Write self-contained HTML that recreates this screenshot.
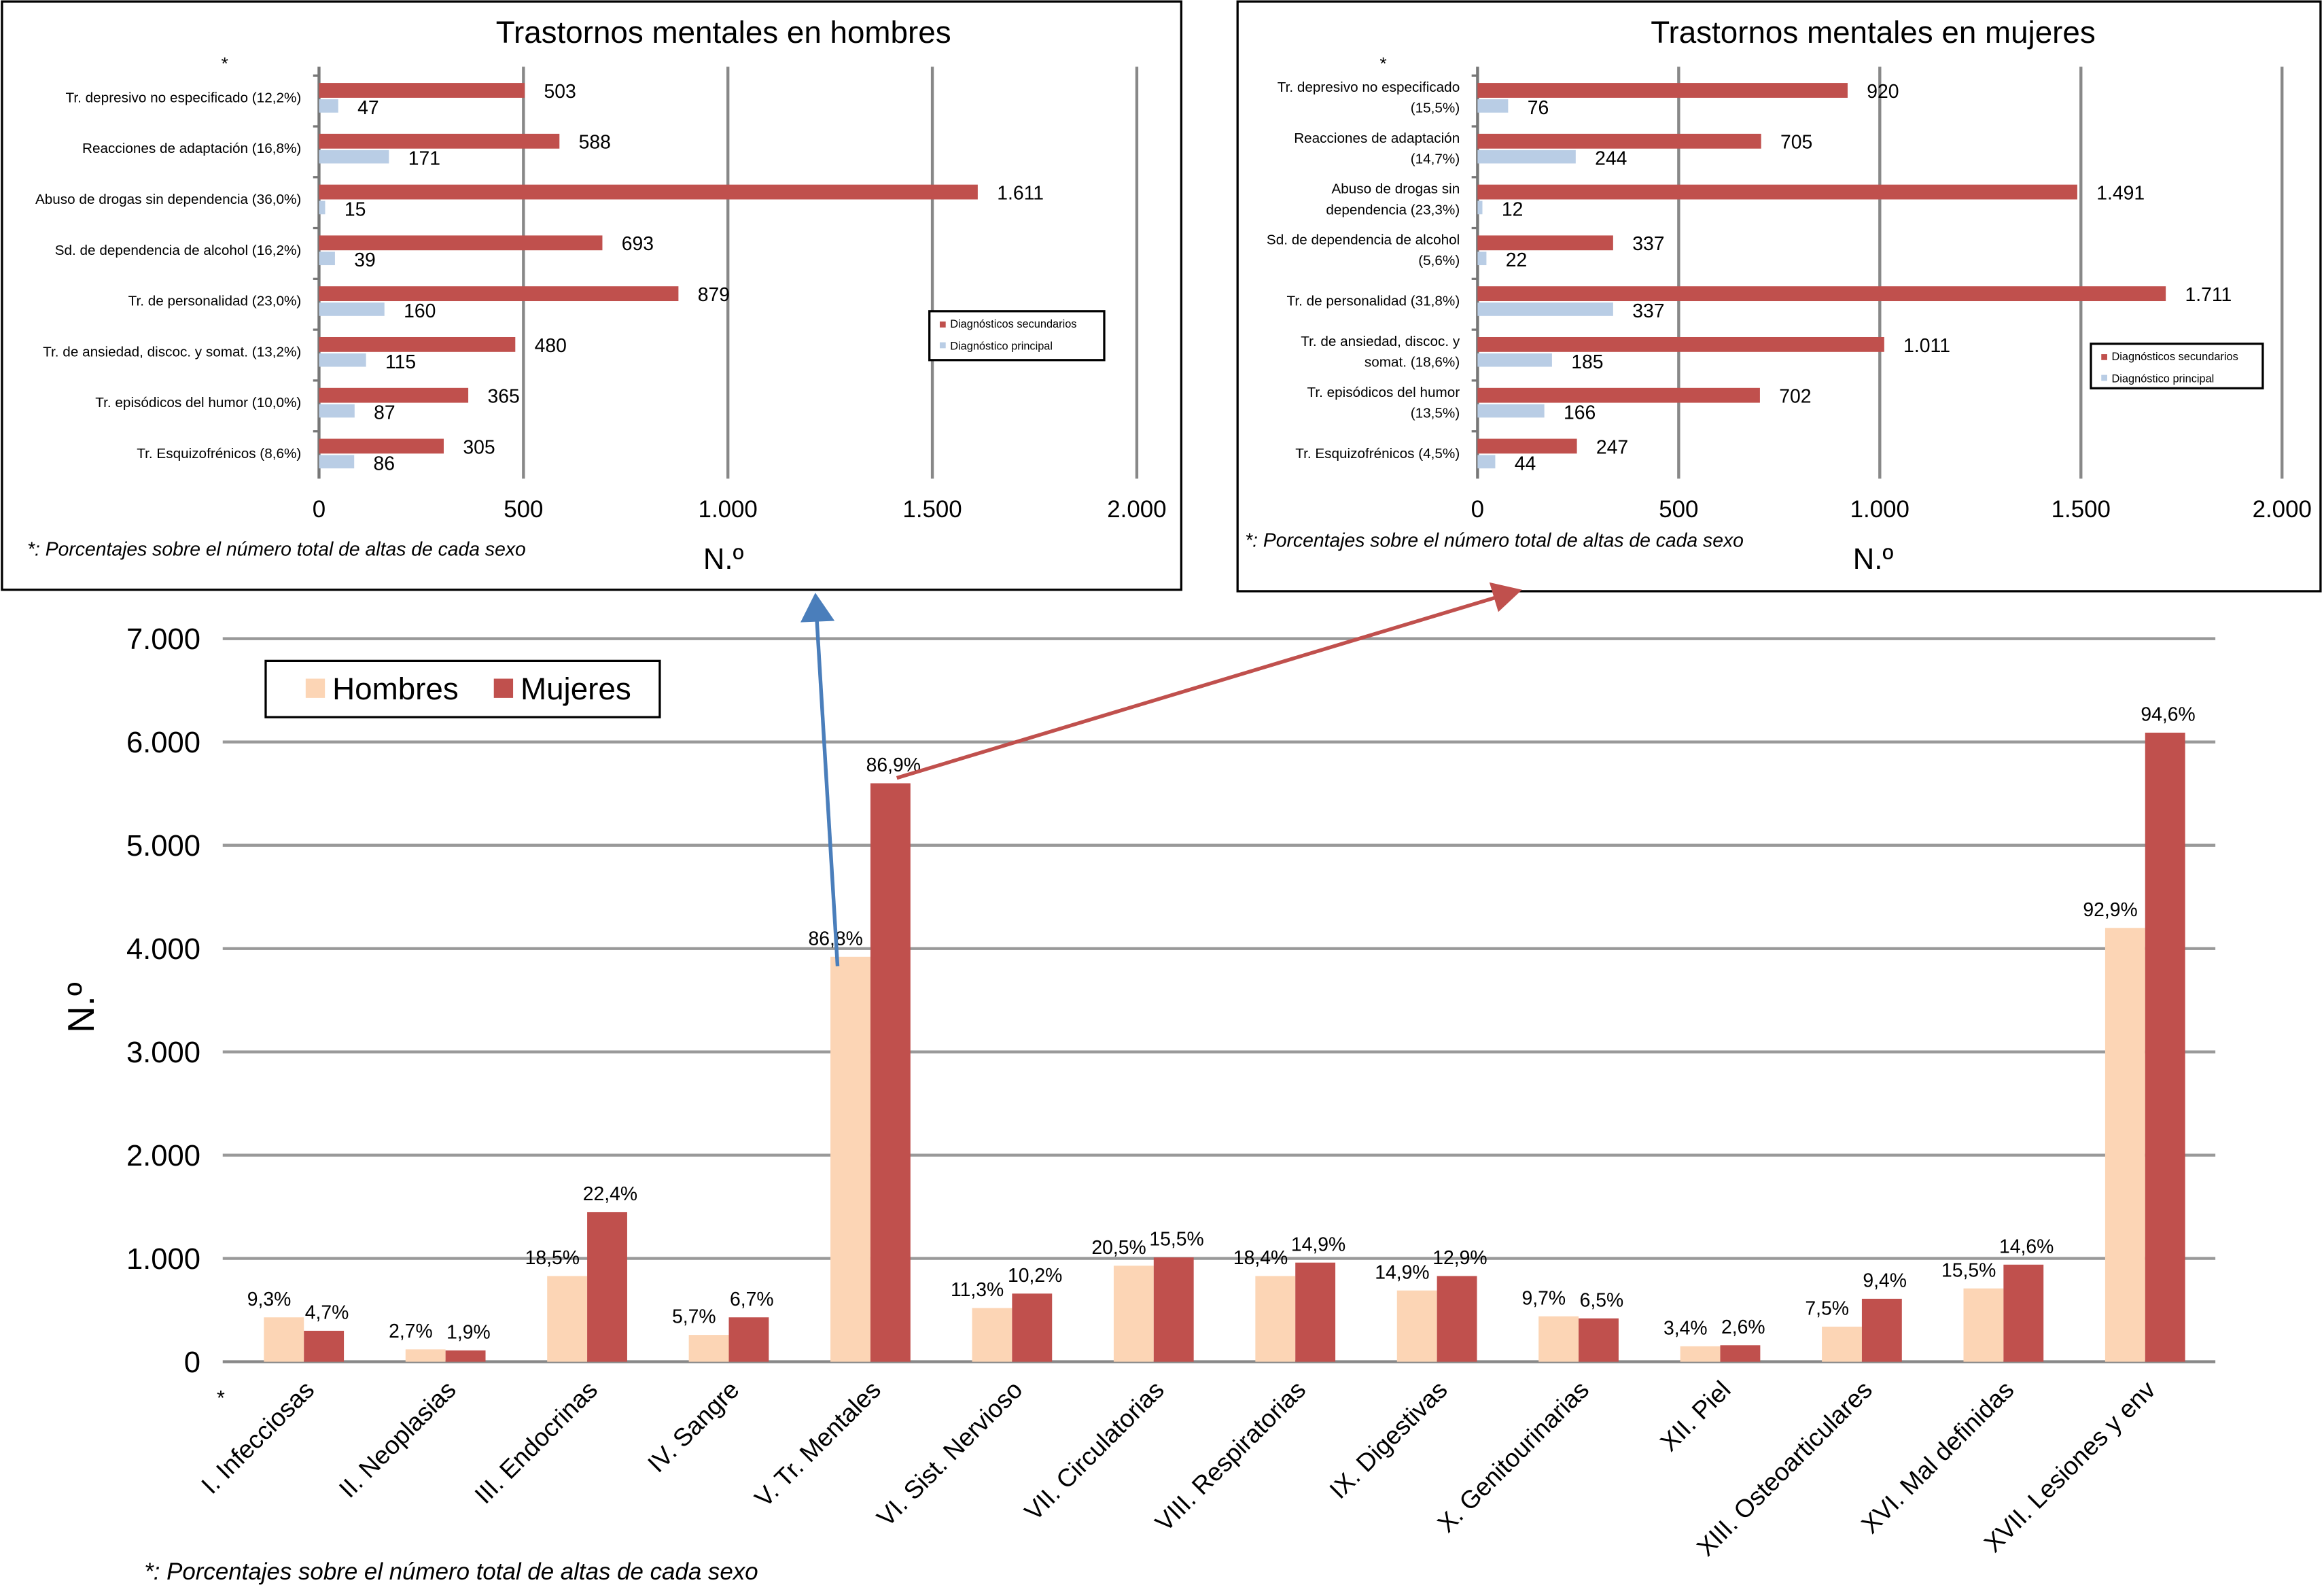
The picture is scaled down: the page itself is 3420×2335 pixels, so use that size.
<!DOCTYPE html>
<html><head><meta charset="utf-8"><style>
html,body{margin:0;padding:0;background:#fff}
svg{display:block;font-family:"Liberation Sans",sans-serif}
</style></head><body>
<svg id="s" width="3420" height="2335" viewBox="0 0 1568 1071" xmlns="http://www.w3.org/2000/svg">
<g id="main"></g>
<g id="ih"></g>
<g id="im"></g>
<g id="arrows"></g>
</svg>
<script>
const NS="http://www.w3.org/2000/svg";
// main chart data
const categories=["I. Infecciosas","II. Neoplasias","III. Endocrinas","IV. Sangre","V. Tr. Mentales","VI. Sist. Nervioso","VII. Circulatorias","VIII. Respiratorias","IX. Digestivas","X. Genitourinarias","XII. Piel","XIII. Osteoarticulares","XVI. Mal definidas","XVII. Lesiones y env"];
const hombres=[430,120,830,260,3920,520,930,830,690,440,150,340,710,4200];
const mujeres=[300,110,1450,430,5600,660,1010,960,830,420,160,610,940,6090];
const pctH=["9,3%","2,7%","18,5%","5,7%","86,8%","11,3%","20,5%","18,4%","14,9%","9,7%","3,4%","7,5%","15,5%","92,9%"];
const pctM=["4,7%","1,9%","22,4%","6,7%","86,9%","10,2%","15,5%","14,9%","12,9%","6,5%","2,6%","9,4%","14,6%","94,6%"];
const yTicks=[0,1000,2000,3000,4000,5000,6000,7000];
const yTickLabels=["0","1.000","2.000","3.000","4.000","5.000","6.000","7.000"];
// inset hombres
const catsH=["Tr. depresivo no especificado (12,2%)","Reacciones de adaptación (16,8%)","Abuso de drogas sin dependencia (36,0%)","Sd. de dependencia de alcohol (16,2%)","Tr. de personalidad (23,0%)","Tr. de ansiedad, discoc. y somat. (13,2%)","Tr. episódicos del humor (10,0%)","Tr. Esquizofrénicos (8,6%)"];
const secH=[503,588,1611,693,879,480,365,305];
const prinH=[47,171,15,39,160,115,87,86];
const secHLbl=["503","588","1.611","693","879","480","365","305"];
// inset mujeres
const catsM=[["Tr. depresivo no especificado","(15,5%)"],["Reacciones de adaptación","(14,7%)"],["Abuso de drogas sin","dependencia (23,3%)"],["Sd. de dependencia de alcohol","(5,6%)"],["Tr. de personalidad (31,8%)"],["Tr. de ansiedad, discoc. y","somat. (18,6%)"],["Tr. episódicos del humor","(13,5%)"],["Tr. Esquizofrénicos (4,5%)"]];
const secM=[920,705,1491,337,1711,1011,702,247];
const prinM=[76,244,12,22,337,185,166,44];
const secMLbl=["920","705","1.491","337","1.711","1.011","702","247"];
const xTicksIn=[0,500,1000,1500,2000];
const xTickLblIn=["0","500","1.000","1.500","2.000"];

function el(p,t,a,txt){const e=document.createElementNS(NS,t);for(const k in a)e.setAttribute(k,a[k]);if(txt!==undefined)e.textContent=txt;p.appendChild(e);return e;}

// ---- main
const M=document.getElementById('main');
const y0=919,pxPer=488/7000,xs=157,cw=95.6,bw=27;
const Y=v=>y0-v*pxPer, CX=i=>xs+cw*(i+0.5);
yTicks.forEach((t,i)=>{
 const g=el(M,'line',{x1:150,x2:1495,y1:Y(t),y2:Y(t),stroke:i==0?'#888':'#999','stroke-width':2});
 
 
 const l=el(M,'text',{x:135,y:Y(t)+7,'text-anchor':'end','font-size':20},yTickLabels[i]);
 
 
});
categories.forEach((c,i)=>{
 const cx=CX(i);
 const h=el(M,'rect',{x:cx-bw,y:Y(hombres[i]),width:bw,height:hombres[i]*pxPer,fill:'#fcd5b5'});
 
 
 const m=el(M,'rect',{x:cx,y:Y(mujeres[i]),width:bw,height:mujeres[i]*pxPer,fill:'#c0504d'});
 
 
 const ph=el(M,'text',{x:cx-bw/2-10,y:Y(hombres[i])-8,'text-anchor':'middle','font-size':13},pctH[i]);
 
 
 const pm=el(M,'text',{x:cx+bw/2+2,y:Y(mujeres[i])-8,'text-anchor':'middle','font-size':13},pctM[i]);
 
 
 const xl=el(M,'text',{x:0,y:0,'text-anchor':'end','font-size':17,transform:`translate(${cx+8},${y0+20}) rotate(-45)`},c);
 
 
});
el(M,'text',{x:0,y:0,'font-size':25,'text-anchor':'middle',transform:'translate(63,680) rotate(-90)',},'N.º');
el(M,'text',{x:146,y:948,'font-size':14,},'*');
el(M,'text',{x:97,y:1066,'font-size':16,'font-style':'italic',},'*: Porcentajes sobre el número total de altas de cada sexo');
const lg=el(M,'g',{});
el(lg,'rect',{x:179,y:446,width:266,height:38,fill:'#fff',stroke:'#000','stroke-width':1.5});
el(lg,'rect',{x:206,y:458,width:13,height:13,fill:'#fcd5b5',});
el(lg,'text',{x:224,y:472,'font-size':21,},'Hombres');
el(lg,'rect',{x:333,y:458,width:13,height:13,fill:'#c0504d',});
el(lg,'text',{x:351,y:472,'font-size':21,},'Mujeres');

// ---- insets
function inset(G,o){
 el(G,'rect',{x:o.bx,y:o.by,width:o.bw,height:o.bh,fill:'#fff',stroke:'#000','stroke-width':1.5,});
 el(G,'text',{x:o.tx,y:29,'text-anchor':'middle','font-size':21,},o.title);
 const X=v=>o.x0+v*o.k;
 xTicksIn.forEach((t,i)=>{
  const g=el(G,'line',{x1:X(t),x2:X(t),y1:45,y2:323,stroke:i==0?'#777':'#888','stroke-width':2});
  
  
  const l=el(G,'text',{x:X(t),y:349,'text-anchor':'middle','font-size':16},xTickLblIn[i]);
  
  
 });
 el(G,'text',{x:o.x0-66,y:47,'font-size':12,},'*');
 o.cats.forEach((c,i)=>{
  const rt=56+i*34.3;
  el(G,'line',{x1:o.x0-4,x2:o.x0,y1:rt-5,y2:rt-5,stroke:'#777','stroke-width':1.5});
  const r=el(G,'rect',{x:o.x0,y:rt,width:o.sec[i]*o.k,height:10,fill:'#c0504d'});
  
  
  const b=el(G,'rect',{x:o.x0,y:rt+11,width:o.prin[i]*o.k,height:9,fill:'#b9cde5'});
  
  
  const sl=el(G,'text',{x:X(o.sec[i])+13,y:rt+10,'font-size':13},o.secL[i]);
  
  
  const pl=el(G,'text',{x:X(o.prin[i])+13,y:rt+21,'font-size':13},String(o.prin[i]));
  
  
  const lines=Array.isArray(c)?c:[c];
  const ly=rt+13-(lines.length-1)*7;
  lines.forEach((s,j)=>{
   const cl=el(G,'text',{x:o.x0-12,y:ly+j*14,'text-anchor':'end','font-size':9.5},s);
   
   
  });
 });
 el(G,'text',{x:o.tx,y:384,'text-anchor':'middle','font-size':20,},'N.º');
 el(G,'text',{x:o.fx,y:o.fy,'font-size':13,'font-style':'italic',},'*: Porcentajes sobre el número total de altas de cada sexo');
 const L=o.leg;
 el(G,'rect',{x:L[0],y:L[1],width:L[2],height:L[3],fill:'#fff',stroke:'#000','stroke-width':1.5,});
 el(G,'rect',{x:L[0]+7,y:L[1]+7,width:4,height:4,fill:'#c0504d'});
 el(G,'text',{x:L[0]+14,y:L[1]+11,'font-size':7.5,},'Diagnósticos secundarios');
 el(G,'rect',{x:L[0]+7,y:L[1]+21,width:4,height:4,fill:'#b9cde5'});
 el(G,'text',{x:L[0]+14,y:L[1]+26,'font-size':7.5,},'Diagnóstico principal');
}
inset(document.getElementById('ih'),{bx:1,by:1,bw:796,bh:397,tx:488,title:'Trastornos mentales en hombres',x0:215,k:552/2000,cats:catsH,sec:secH,prin:prinH,secL:secHLbl,fx:18,fy:375,leg:[627,210,118,33]});
inset(document.getElementById('im'),{bx:835,by:1,bw:731,bh:398,tx:1264,title:'Trastornos mentales en mujeres',x0:997,k:543/2000,cats:catsM,sec:secM,prin:prinM,secL:secMLbl,fx:840,fy:369,leg:[1411,232,116,30]});

// ---- arrows
const A=document.getElementById('arrows');
el(A,'line',{x1:565,y1:652,x2:551,y2:418,stroke:'#4a7ebb','stroke-width':2.5,});
el(A,'polygon',{points:'550,400 540,420 563,419',fill:'#4a7ebb',});
el(A,'line',{x1:605,y1:525,x2:1010,y2:403,stroke:'#c0504d','stroke-width':2.5,});
el(A,'polygon',{points:'1027,398 1005,393 1011,413',fill:'#c0504d',});
</script>
</body></html>
